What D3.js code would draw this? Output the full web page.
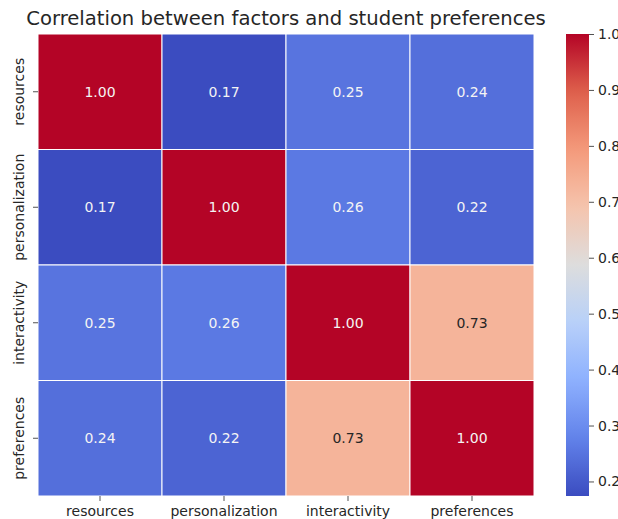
<!DOCTYPE html>
<html>
<head>
<meta charset="utf-8">
<script src="https://cdn.jsdelivr.net/npm/d3@7"></script>
<style>
  html, body { margin: 0; padding: 0; background: #fff; }
  svg { display: block; font-family: "DejaVu Sans", sans-serif; }
</style>
</head>
<body>
<svg id="chart" width="618" height="519"></svg>
<script>
// Factor names (rows and columns of the correlation matrix)
const factors = ["resources", "personalization", "interactivity", "preferences"];

// Correlation matrix, one row per factor
const rowResources       = [1.00, 0.174, 0.25, 0.24];
const rowPersonalization = [0.174, 1.00, 0.26, 0.22];
const rowInteractivity   = [0.25, 0.26, 1.00, 0.73];
const rowPreferences     = [0.24, 0.22, 0.73, 1.00];
const matrix = [rowResources, rowPersonalization, rowInteractivity, rowPreferences];

// Colorbar tick values
const colorbarTicks = [0.2, 0.3, 0.4, 0.5, 0.6, 0.7, 0.8, 0.9, 1.0];

const title = "Correlation between factors and student preferences";

// coolwarm diverging colormap stops
const coolwarmStops = [
  [59, 76, 192], [98, 130, 234], [141, 176, 254], [184, 208, 249],
  [221, 221, 221], [245, 196, 173], [244, 154, 123], [222, 96, 76], [180, 4, 38]
];
const coolwarm = d3.scaleLinear()
  .domain(coolwarmStops.map((_, i) => i / (coolwarmStops.length - 1)))
  .range(coolwarmStops.map(c => d3.rgb(c[0], c[1], c[2])))
  .interpolate(d3.interpolateRgb)
  .clamp(true);

const allValues = matrix.flat();
const vmin = d3.min(allValues), vmax = d3.max(allValues);
const norm = d3.scaleLinear().domain([vmin, vmax]).range([0, 1]);
const colorOf = v => coolwarm(norm(v));

const svg = d3.select("#chart");
const plot = { left: 38, top: 34, right: 534, bottom: 496 };
const tickFont = 14;

const x = d3.scaleBand().domain(factors).range([plot.left, plot.right]);
const y = d3.scaleBand().domain(factors).range([plot.top, plot.bottom]);

const cells = [];
matrix.forEach((row, i) => row.forEach((v, j) => cells.push({ r: factors[i], c: factors[j], v })));

// Heatmap cells
svg.append("g").selectAll("rect").data(cells).join("rect")
  .attr("x", d => x(d.c))
  .attr("y", d => y(d.r))
  .attr("width", x.bandwidth())
  .attr("height", y.bandwidth())
  .attr("fill", d => colorOf(d.v))
  .attr("stroke", "#fff")
  .attr("stroke-width", 1);

// Cell annotations: dark text on light cells, white on dark ones
const fmt = d3.format(".2f");
function textColor(v) {
  const c = d3.rgb(colorOf(v));
  const lum = [c.r, c.g, c.b].map(u => {
    u /= 255;
    return u <= 0.03928 ? u / 12.92 : Math.pow((u + 0.055) / 1.055, 2.4);
  });
  const L = 0.2126 * lum[0] + 0.7152 * lum[1] + 0.0722 * lum[2];
  return L > 0.408 ? "#262626" : "#f4f4f4";
}
svg.append("g").selectAll("text").data(cells).join("text")
  .attr("x", d => x(d.c) + x.bandwidth() / 2)
  .attr("y", d => y(d.r) + y.bandwidth() / 2)
  .attr("text-anchor", "middle")
  .attr("dominant-baseline", "central")
  .attr("font-size", 14)
  .attr("fill", d => textColor(d.v))
  .text(d => fmt(d.v));

// Axes
const xAxis = svg.append("g")
  .attr("transform", `translate(0,${plot.bottom})`)
  .call(d3.axisBottom(x).tickSize(5).tickPadding(5));
const yAxis = svg.append("g")
  .attr("transform", `translate(${plot.left},0)`)
  .call(d3.axisLeft(y).tickSize(5).tickPadding(5));
[xAxis, yAxis].forEach(g => {
  g.select(".domain").remove();
  g.selectAll(".tick line").attr("stroke", "#262626").attr("stroke-width", 0.8);
  g.selectAll(".tick text").attr("font-size", tickFont).attr("fill", "#262626")
    .attr("font-family", "DejaVu Sans, sans-serif");
});
yAxis.selectAll(".tick text")
  .attr("text-anchor", "middle")
  .attr("dy", 0)
  .attr("x", 0)
  .attr("transform", "translate(-14,0) rotate(-90)");

// Title
svg.append("text")
  .attr("x", (plot.left + plot.right) / 2)
  .attr("y", 25)
  .attr("text-anchor", "middle")
  .attr("font-size", 19.6)
  .attr("fill", "#262626")
  .text(title);

// Colorbar (its labels run off the right edge of the canvas)
const cb = { left: 566, width: 23 };
const cbScale = d3.scaleLinear().domain([vmin, vmax]).range([plot.bottom, plot.top]);
const defs = svg.append("defs");
const grad = defs.append("linearGradient").attr("id", "cbgrad")
  .attr("x1", 0).attr("y1", 1).attr("x2", 0).attr("y2", 0);
d3.range(0, 1.0001, 0.02).forEach(t => {
  grad.append("stop").attr("offset", t).attr("stop-color", coolwarm(t));
});
svg.append("rect")
  .attr("x", cb.left).attr("y", plot.top)
  .attr("width", cb.width).attr("height", plot.bottom - plot.top)
  .attr("fill", "url(#cbgrad)");
const cbAxis = svg.append("g")
  .attr("transform", `translate(${cb.left + cb.width},0)`)
  .call(d3.axisRight(cbScale).tickValues(colorbarTicks).tickFormat(d3.format(".1f")).tickSize(5).tickPadding(4));
cbAxis.select(".domain").remove();
cbAxis.selectAll(".tick line").attr("stroke", "#262626").attr("stroke-width", 0.8);
cbAxis.selectAll(".tick text").attr("font-size", tickFont).attr("fill", "#262626")
  .attr("font-family", "DejaVu Sans, sans-serif");
</script>
</body>
</html>
